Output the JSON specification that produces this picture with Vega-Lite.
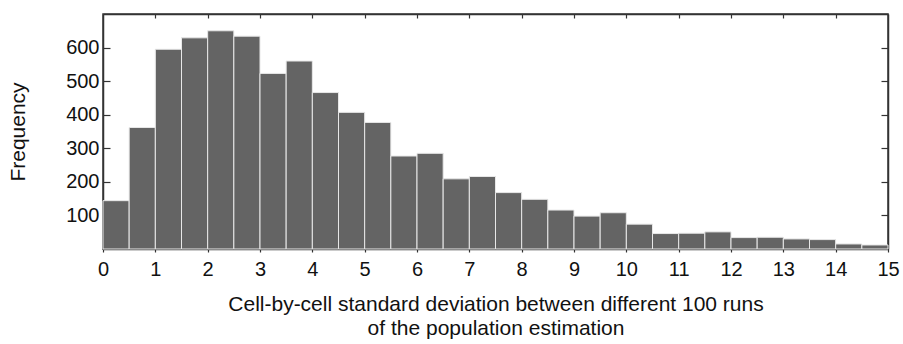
{
  "$schema": "https://vega.github.io/schema/vega-lite/v6.json",
  "autosize": "none",
  "padding": {"left": 103, "top": 14, "right": 15, "bottom": 95},
  "width": 785,
  "height": 235,
  "background": "white",
  "config": {
    "font": "Liberation Sans",
    "view": {"stroke": "#333333", "strokeWidth": 1.5},
    "axis": {"grid": false, "domainColor": "#333333", "tickColor": "#333333", "labelColor": "#111111", "titleColor": "#111111", "labelFontSize": 20, "titleFontSize": 21, "titleFontWeight": "normal", "domainWidth": 1.5, "tickWidth": 1.2}
  },
  "data": {"values": [
    {"start": 0, "end": 0.5, "count": 144},
    {"start": 0.5, "end": 1, "count": 362},
    {"start": 1, "end": 1.5, "count": 595},
    {"start": 1.5, "end": 2, "count": 629},
    {"start": 2, "end": 2.5, "count": 650},
    {"start": 2.5, "end": 3, "count": 634},
    {"start": 3, "end": 3.5, "count": 523},
    {"start": 3.5, "end": 4, "count": 560},
    {"start": 4, "end": 4.5, "count": 466},
    {"start": 4.5, "end": 5, "count": 407},
    {"start": 5, "end": 5.5, "count": 377},
    {"start": 5.5, "end": 6, "count": 277},
    {"start": 6, "end": 6.5, "count": 285},
    {"start": 6.5, "end": 7, "count": 209},
    {"start": 7, "end": 7.5, "count": 216},
    {"start": 7.5, "end": 8, "count": 168},
    {"start": 8, "end": 8.5, "count": 148},
    {"start": 8.5, "end": 9, "count": 116},
    {"start": 9, "end": 9.5, "count": 98},
    {"start": 9.5, "end": 10, "count": 108},
    {"start": 10, "end": 10.5, "count": 74},
    {"start": 10.5, "end": 11, "count": 46},
    {"start": 11, "end": 11.5, "count": 47},
    {"start": 11.5, "end": 12, "count": 51},
    {"start": 12, "end": 12.5, "count": 34},
    {"start": 12.5, "end": 13, "count": 35},
    {"start": 13, "end": 13.5, "count": 30},
    {"start": 13.5, "end": 14, "count": 28},
    {"start": 14, "end": 14.5, "count": 15},
    {"start": 14.5, "end": 15, "count": 12}
  ]},
  "layer": [
    {
      "mark": {"type": "bar", "fill": "#646464", "stroke": "#e8e8e8", "strokeWidth": 1},
      "encoding": {
        "x": {"field": "start", "type": "quantitative", "scale": {"domain": [0, 15], "nice": false, "zero": false},
          "axis": {"orient": "bottom", "values": [0,1,2,3,4,5,6,7,8,9,10,11,12,13,14,15], "tickSize": 3, "labelPadding": 7, "labelFontSize": 20, "title": ["Cell-by-cell standard deviation between different 100 runs", "of the population estimation"], "titleFontSize": 21, "titlePadding": 14, "titleLineHeight": 24, "labelFlush": false}},
        "x2": {"field": "end"},
        "y": {"field": "count", "type": "quantitative", "scale": {"domain": [0, 700], "nice": false},
          "axis": {"orient": "left", "values": [100,200,300,400,500,600], "tickSize": -7, "labelPadding": 11, "labelFontSize": 20, "title": "Frequency", "titleFontSize": 21, "titlePadding": 37}},
        "y2": {"datum": 0}
      }
    },
    {
      "mark": {"type": "bar", "opacity": 0},
      "encoding": {
        "x": {"field": "start", "type": "quantitative", "scale": {"domain": [0, 15], "nice": false, "zero": false},
          "axis": {"orient": "top", "values": [1,2,3,4,5,6,7,8,9,10,11,12,13,14], "tickSize": -4, "labels": false, "title": null}},
        "x2": {"field": "end"},
        "y": {"field": "count", "type": "quantitative", "scale": {"domain": [0, 700], "nice": false},
          "axis": {"orient": "right", "values": [100,200,300,400,500,600], "tickSize": -7, "labels": false, "title": null}},
        "y2": {"datum": 0}
      }
    }
  ],
  "resolve": {"axis": {"x": "independent", "y": "independent"}}
}
